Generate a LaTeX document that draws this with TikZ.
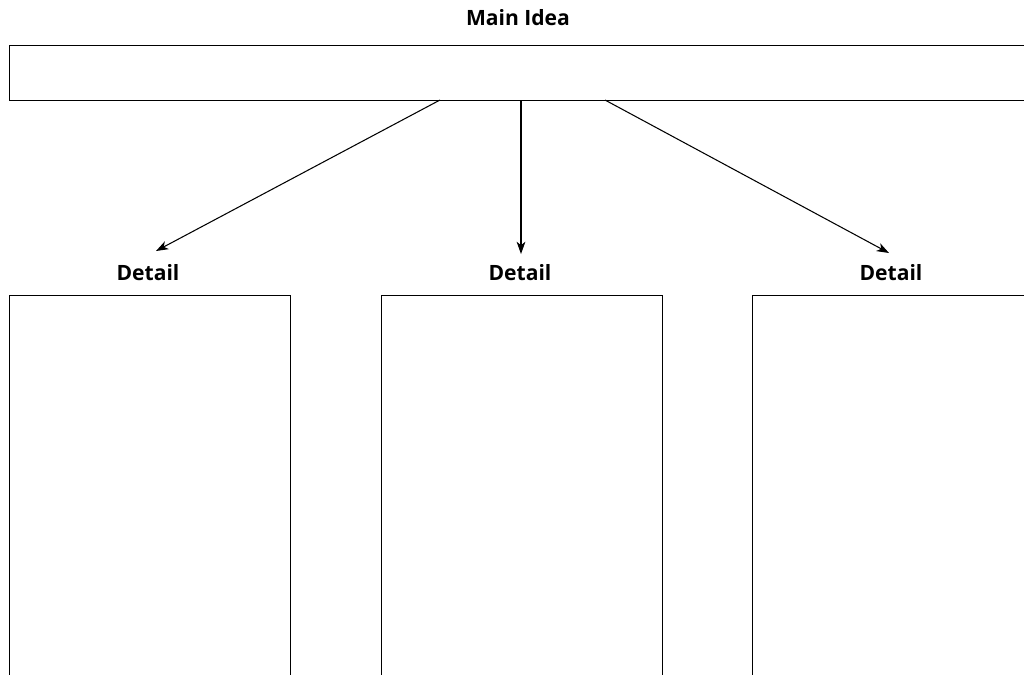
\documentclass[tikz,border=0pt]{standalone}
\usepackage{fontspec}
\setmainfont{Open Sans}
\usetikzlibrary{arrows.meta}

\begin{document}
\begin{tikzpicture}[x=0.02cm, y=-0.02cm, line width=0.6pt,
    box/.style={draw, inner sep=0pt, anchor=north west},
    lbl/.style={font=\bfseries\fontsize{12}{14}\selectfont},
    arr/.style={-{Stealth[length=7pt, width=5pt, inset=2pt]}}]
    \useasboundingbox (0,0) rectangle (1024,674);
    \clip (0,0) rectangle (1024,674);
    % main idea
    \node[lbl] (idea) at (518,18) {Main Idea};
    \node[box, minimum width=20.5cm, minimum height=1.1cm] (main) at (9,45) {};
    % details
    \foreach \x/\n in {9/1, 381/2, 752/3} {
        \node[box, minimum width=5.62cm, minimum height=8.5cm] (box\n) at (\x,295) {};
        \node[lbl] (detail\n) at ({\x+139},273) {Detail};
    }
    \coordinate (s1) at (440,100);
    \coordinate (s2) at (521,100);
    \coordinate (s3) at (605,100);
    \coordinate (t1) at (156,251);
    \coordinate (t2) at (521,254);
    \coordinate (t3) at (889,253);
    \foreach \n in {1,2,3}
        \draw[arr] (s\n) -- (t\n);
\end{tikzpicture}
\end{document}
